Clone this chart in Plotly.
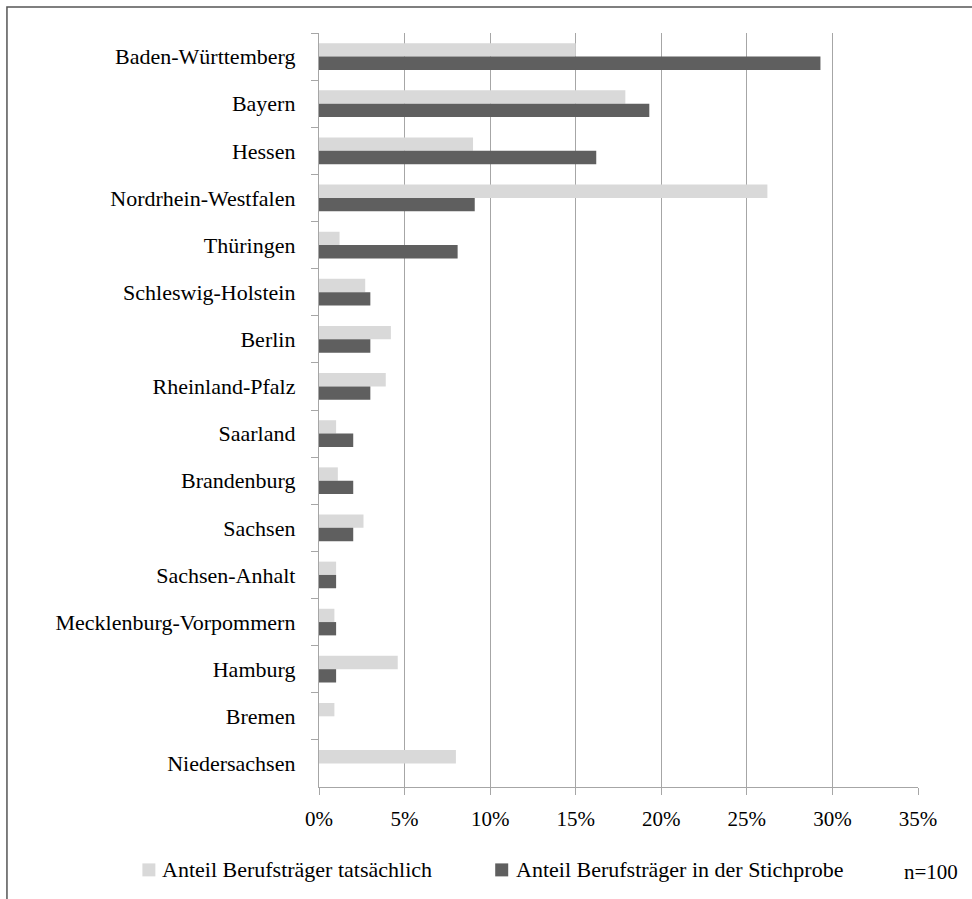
import plotly.graph_objects as go

states = ["Baden-Württemberg", "Bayern", "Hessen", "Nordrhein-Westfalen", "Thüringen",
          "Schleswig-Holstein", "Berlin", "Rheinland-Pfalz", "Saarland", "Brandenburg",
          "Sachsen", "Sachsen-Anhalt", "Mecklenburg-Vorpommern", "Hamburg", "Bremen",
          "Niedersachsen"]
actual = [0.150, 0.179, 0.090, 0.262, 0.012, 0.027, 0.042, 0.039, 0.010, 0.011,
          0.026, 0.010, 0.009, 0.046, 0.009, 0.080]
sample = [0.293, 0.193, 0.162, 0.091, 0.081, 0.030, 0.030, 0.030, 0.020, 0.020,
          0.020, 0.010, 0.010, 0.010, 0.0, 0.0]
series_names = ["Anteil Berufsträger tatsächlich", "Anteil Berufsträger in der Stichprobe"]
x_ticks = [0, 0.05, 0.10, 0.15, 0.20, 0.25, 0.30, 0.35]
note = "n=100"

LIGHT = "#d9d9d9"
DARK = "#5f5f5f"
GRID = "#a6a6a6"
FONT = "Liberation Serif"
TXT = 22

fig = go.Figure()
fig.add_trace(go.Bar(y=states, x=actual, orientation="h", name=series_names[0],
                     marker=dict(color=LIGHT, line=dict(width=0))))
fig.add_trace(go.Bar(y=states, x=sample, orientation="h", name=series_names[1],
                     marker=dict(color=DARK, line=dict(width=0))))

# plot area in pixels
L, R, T, B = 318.7, 918.0, 32.5, 787.5
W, H = R - L, B - T
def px(x):
    return (x - L) / W
def py(y):
    return (B - y) / H

fig.update_layout(
    width=972, height=899,
    margin=dict(l=L, r=972 - R, t=T, b=899 - B, autoexpand=False),
    paper_bgcolor="white", plot_bgcolor="white",
    barmode="group", bargap=0.435, bargroupgap=0.0,
    showlegend=False,
    font=dict(family=FONT, size=TXT, color="black"),
    xaxis=dict(range=[0, 0.35], tickvals=x_ticks, tickformat=".0%",
               showgrid=True, gridcolor=GRID, gridwidth=1.3,
               showline=True, linecolor=GRID, linewidth=1.3,
               ticks="outside", ticklen=7, tickcolor=GRID, tickwidth=1.3,
               ticklabelstandoff=6, zeroline=False,
               tickfont=dict(family=FONT, size=21, color="black")),
    yaxis=dict(autorange="reversed", type="category",
               showgrid=False, showline=True, linecolor=GRID, linewidth=1.3,
               ticks="outside", ticklen=7, tickcolor=GRID, tickwidth=1.3,
               tickson="boundaries", ticklabelstandoff=18,
               tickfont=dict(family=FONT, size=TXT, color="black")),
)

# outer frame (top and left edges visible)
fig.add_shape(type="rect", xref="paper", yref="paper",
              x0=px(6.5), x1=px(1010), y0=py(960), y1=py(6.5),
              line=dict(color="#555555", width=1.5), fillcolor="rgba(0,0,0,0)",
              layer="above")

# manual legend
fig.add_shape(type="rect", xref="paper", yref="paper",
              x0=px(142), x1=px(155), y0=py(877), y1=py(864),
              line=dict(width=0), fillcolor=LIGHT)
fig.add_shape(type="rect", xref="paper", yref="paper",
              x0=px(495), x1=px(508), y0=py(877), y1=py(864),
              line=dict(width=0), fillcolor=DARK)
fig.add_annotation(xref="paper", yref="paper", x=px(160), y=py(870.5),
                   text=series_names[0], showarrow=False, xanchor="left", yanchor="middle",
                   font=dict(family=FONT, size=TXT, color="black"))
fig.add_annotation(xref="paper", yref="paper", x=px(514), y=py(870.5),
                   text=series_names[1], showarrow=False, xanchor="left", yanchor="middle",
                   font=dict(family=FONT, size=TXT, color="black"))
fig.add_annotation(xref="paper", yref="paper", x=px(902), y=py(873),
                   text=note, showarrow=False, xanchor="left", yanchor="middle",
                   font=dict(family=FONT, size=21, color="black"))

fig.write_html("out.html", config={"displayModeBar": False},
               post_script="document.body.style.margin='0';")
